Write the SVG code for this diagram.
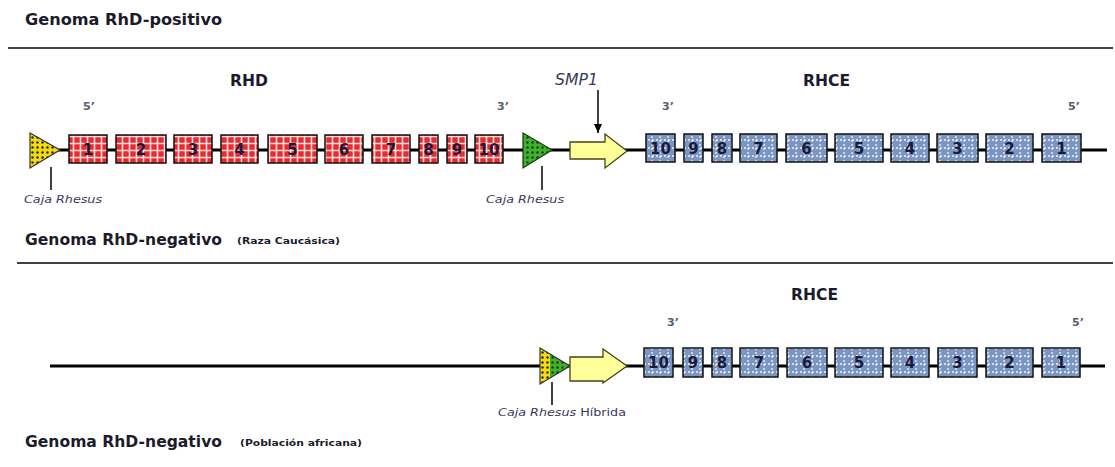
<svg xmlns="http://www.w3.org/2000/svg" width="1115" height="467" viewBox="0 0 1115 467">
<defs>
<style>
.title{font-family:"DejaVu Sans",sans-serif;font-weight:bold;font-size:16.5px;fill:#1b1b2b}
.gene{font-family:"DejaVu Sans",sans-serif;font-weight:bold;font-size:15px;fill:#1b1b2b}
.sub{font-family:"DejaVu Sans",sans-serif;font-weight:bold;font-size:9px;fill:#1b1b2b}
.end{font-family:"DejaVu Sans",sans-serif;font-weight:bold;font-size:11px;fill:#5a5a70}
.cap{font-family:"DejaVu Sans",sans-serif;font-style:italic;font-size:11px;fill:#3a3a5a}
.capn{font-family:"DejaVu Sans",sans-serif;font-size:11px;fill:#3a3a5a}
.smp{font-family:"DejaVu Sans",sans-serif;font-style:italic;font-size:15px;fill:#3a3a5a}
.num{font-family:"DejaVu Sans",sans-serif;font-weight:bold;font-size:15px;fill:#1a1a3a;text-anchor:middle}
.red{fill:url(#redgrid);stroke:#111;stroke-width:1.5}
.blue{fill:url(#bluegrid);stroke:#111;stroke-width:1.5}
.line{stroke:#000;stroke-width:3;fill:none}
.thin{stroke:#000;stroke-width:1.5;fill:none}
.rule{stroke:#000;stroke-width:1.5}
.arrow{fill:#ffff99;stroke:#44441a;stroke-width:1.3}
</style>
<pattern id="redgrid" patternUnits="userSpaceOnUse" width="7" height="7">
<rect width="7" height="7" fill="#ea2a2e"/>
<path d="M3.5 0V7M0 3.5H7" stroke="#ffdede" stroke-width="1.6"/>
</pattern>
<pattern id="bluegrid" patternUnits="userSpaceOnUse" width="8" height="8">
<rect width="8" height="8" fill="#7b96c3"/>
<path d="M4 0V8M0 4H8" stroke="#eef2fa" stroke-width="1.3" stroke-dasharray="2 2"/>
</pattern>
<pattern id="ydots" patternUnits="userSpaceOnUse" width="5" height="5">
<rect width="5" height="5" fill="#f2dc10"/>
<circle cx="2.5" cy="2.5" r="1.2" fill="#222"/>
</pattern>
<pattern id="gdots" patternUnits="userSpaceOnUse" width="5" height="5">
<rect width="5" height="5" fill="#3fb12c"/>
<circle cx="2.5" cy="2.5" r="1.2" fill="#123a10"/>
</pattern>
<marker id="ah" markerWidth="10" markerHeight="10" refX="9" refY="5" orient="auto" markerUnits="userSpaceOnUse">
<path d="M0 1L9 5L0 9Z" fill="#000"/>
</marker>
</defs>
<rect width="1115" height="467" fill="#fff"/>

<g id="headers">
<text class="title" x="25" y="25" textLength="197" lengthAdjust="spacingAndGlyphs">Genoma RhD-positivo</text>
<line class="rule" x1="8" y1="48" x2="1113" y2="48"/>
<text class="title" x="25" y="245" textLength="197" lengthAdjust="spacingAndGlyphs">Genoma RhD-negativo</text>
<text class="sub" x="237" y="244" textLength="103" lengthAdjust="spacingAndGlyphs">(Raza Caucásica)</text>
<line class="rule" x1="17" y1="263" x2="1113" y2="263"/>
<text class="title" x="25" y="447" textLength="197" lengthAdjust="spacingAndGlyphs">Genoma RhD-negativo</text>
<text class="sub" x="240" y="446" textLength="122" lengthAdjust="spacingAndGlyphs">(Población africana)</text>
</g>

<g id="connectors">
<line class="line" x1="58" y1="150" x2="1107" y2="150"/>
<line class="line" x1="50" y1="366" x2="1105" y2="366"/>
<line class="thin" x1="51" y1="167" x2="51" y2="190"/>
<line class="thin" x1="542" y1="166" x2="542" y2="190"/>
<line class="thin" x1="552" y1="382" x2="552" y2="405"/>
<line class="thin" x1="598" y1="90" x2="598" y2="133" marker-end="url(#ah)"/>
</g>

<g id="labels-top">
<text class="gene" x="230" y="86" textLength="38" lengthAdjust="spacingAndGlyphs">RHD</text>
<text class="gene" x="803" y="86" textLength="47" lengthAdjust="spacingAndGlyphs">RHCE</text>
<text class="smp" x="555" y="85" textLength="43" lengthAdjust="spacingAndGlyphs">SMP1</text>
<text class="end" x="83" y="110">5’</text>
<text class="end" x="497" y="110">3’</text>
<text class="end" x="662" y="110">3’</text>
<text class="end" x="1068" y="110">5’</text>
<text class="cap" x="24" y="203" textLength="78" lengthAdjust="spacingAndGlyphs">Caja Rhesus</text>
<text class="cap" x="486" y="203" textLength="78" lengthAdjust="spacingAndGlyphs">Caja Rhesus</text>
</g>

<g id="rhesus-box-1"><polygon points="30,133 60,150 30,168" fill="url(#ydots)" stroke="#333" stroke-width="1.2"/></g>
<g id="rhesus-box-2"><polygon points="523,133 552,150 523,168" fill="url(#gdots)" stroke="#1a3a12" stroke-width="1.2"/></g>
<g id="smp1"><polygon class="arrow" points="570,142 605,142 605,134 627,151 605,168 605,159 570,159"/></g>

<g id="rhd-exons">
<rect class="red" x="69" y="135" width="38" height="28"/><text class="num" x="88" y="155">1</text>
<rect class="red" x="116" y="135" width="50" height="28"/><text class="num" x="141" y="155">2</text>
<rect class="red" x="174" y="135" width="38" height="28"/><text class="num" x="193" y="155">3</text>
<rect class="red" x="221" y="135" width="37" height="28"/><text class="num" x="239.5" y="155">4</text>
<rect class="red" x="268" y="135" width="49" height="28"/><text class="num" x="292.5" y="155">5</text>
<rect class="red" x="325" y="135" width="38" height="28"/><text class="num" x="344" y="155">6</text>
<rect class="red" x="372" y="135" width="38" height="28"/><text class="num" x="391" y="155">7</text>
<rect class="red" x="419" y="135" width="19" height="28"/><text class="num" x="428.5" y="155">8</text>
<rect class="red" x="447" y="135" width="20" height="28"/><text class="num" x="457" y="155">9</text>
<rect class="red" x="475" y="135" width="28" height="28"/><text class="num" x="489" y="155">10</text>
</g>

<g id="rhce-exons-top">
<rect class="blue" x="646" y="134" width="29" height="28"/><text class="num" x="660.5" y="154">10</text>
<rect class="blue" x="684" y="134" width="19" height="28"/><text class="num" x="693.5" y="154">9</text>
<rect class="blue" x="712" y="134" width="20" height="28"/><text class="num" x="722" y="154">8</text>
<rect class="blue" x="740" y="134" width="37" height="28"/><text class="num" x="758.5" y="154">7</text>
<rect class="blue" x="786" y="134" width="41" height="28"/><text class="num" x="806.5" y="154">6</text>
<rect class="blue" x="835" y="134" width="48" height="28"/><text class="num" x="859" y="154">5</text>
<rect class="blue" x="891" y="134" width="38" height="28"/><text class="num" x="910" y="154">4</text>
<rect class="blue" x="937" y="134" width="41" height="28"/><text class="num" x="957.5" y="154">3</text>
<rect class="blue" x="986" y="134" width="47" height="28"/><text class="num" x="1009.5" y="154">2</text>
<rect class="blue" x="1042" y="134" width="39" height="28"/><text class="num" x="1061.5" y="154">1</text>
</g>

<g id="labels-bottom">
<text class="gene" x="791" y="300" textLength="47" lengthAdjust="spacingAndGlyphs">RHCE</text>
<text class="end" x="667" y="326">3’</text>
<text class="end" x="1072" y="326">5’</text>
<text x="498" y="416" textLength="128" lengthAdjust="spacingAndGlyphs"><tspan class="cap">Caja Rhesus</tspan><tspan class="capn"> Híbrida</tspan></text>
</g>

<g id="rhesus-hybrid">
<polygon points="540,348 550,354 550,378 540,384" fill="url(#ydots)"/>
<polygon points="550,354 570,366 550,378" fill="url(#gdots)"/>
<polygon points="540,348 570,366 540,384" fill="none" stroke="#333" stroke-width="1.2"/>
</g>
<g id="smp1-hybrid"><polygon class="arrow" points="570,357 603,357 603,349 627,366 603,383 603,381 570,381"/></g>

<g id="rhce-exons-bottom">
<rect class="blue" x="644" y="348" width="29" height="29"/><text class="num" x="658.5" y="368">10</text>
<rect class="blue" x="683" y="348" width="20" height="29"/><text class="num" x="693" y="368">9</text>
<rect class="blue" x="712" y="348" width="20" height="29"/><text class="num" x="722" y="368">8</text>
<rect class="blue" x="740" y="348" width="38" height="29"/><text class="num" x="759" y="368">7</text>
<rect class="blue" x="787" y="348" width="40" height="29"/><text class="num" x="807" y="368">6</text>
<rect class="blue" x="835" y="348" width="48" height="29"/><text class="num" x="859" y="368">5</text>
<rect class="blue" x="891" y="348" width="38" height="29"/><text class="num" x="910" y="368">4</text>
<rect class="blue" x="938" y="348" width="39" height="29"/><text class="num" x="957.5" y="368">3</text>
<rect class="blue" x="986" y="348" width="47" height="29"/><text class="num" x="1009.5" y="368">2</text>
<rect class="blue" x="1042" y="348" width="38" height="29"/><text class="num" x="1061" y="368">1</text>
</g>
</svg>
